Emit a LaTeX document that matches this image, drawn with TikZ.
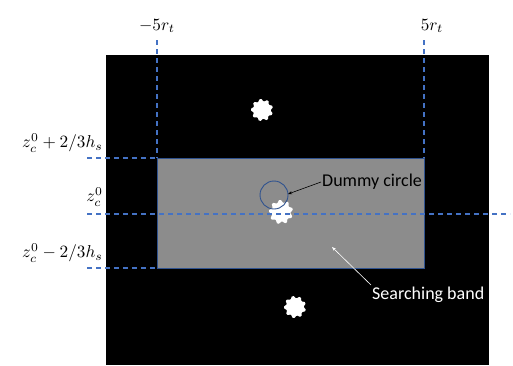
\documentclass[tikz,border=0pt]{standalone}
\usepackage{graphicx}
\usepackage{fontspec}
\setmainfont{Carlito}
\usetikzlibrary{shapes.geometric,arrows.meta}
\definecolor{dashblue}{RGB}{68,114,196}
\definecolor{bandblue}{RGB}{47,82,143}
\definecolor{bandgray}{RGB}{140,140,140}
\newcommand{\lblmath}[1]{\scalebox{1.72}{$#1$}}
\tikzset{
  guide/.style={dashblue, line width=1.2pt, dash pattern=on 5pt off 4pt},
  blob/.style={star, star points=9, star point ratio=1.45, fill=white, draw=white, line width=1.5pt, rounded corners=1pt, inner sep=0pt},
  mlabel/.style={inner sep=1pt},
  tlabel/.style={font=\fontsize{18}{21}\selectfont, inner sep=1pt},
}
\begin{document}
\begin{tikzpicture}[x=1pt,y=-1pt]
\useasboundingbox (0,0) rectangle (513,365);
% image
\fill[black] (106,55) rectangle (489,365);
% blobs
\node[blob, minimum size=22pt, rotate=8] (b1) at (262,110) {};
\node[blob, minimum size=22pt, rotate=12] (b3) at (295,307) {};
% band
\draw[bandblue, line width=0.9pt, fill=bandgray] (157,158) rectangle (424,268);
\node[blob, minimum size=24pt, rotate=5] (b2) at (281,212) {};
% guides
\coordinate (vL) at (157,40);
\coordinate (vR) at (424,40);
\draw[guide] (vL) -- (157,158);
\draw[guide] (vR) -- (424,158);
\draw[guide] (87,158) -- (157,158);
\draw[guide] (87,268) -- (157,268);
\draw[guide] (87,214) -- (510,214);
% circle
\draw[bandblue, line width=0.9pt] (274,195) circle (14);
\coordinate (cEdge) at (288,194);
% labels
\node[mlabel] (lL) at (157,26) {\lblmath{-5r_t}};
\node[mlabel] (lR) at (432,26) {\lblmath{5r_t}};
\node[mlabel, anchor=east] (l1) at (104,143) {\lblmath{z_c^0+2/3h_s}};
\node[mlabel, anchor=east] (l2) at (104,197) {\lblmath{z_c^0}};
\node[mlabel, anchor=east] (l3) at (104,253) {\lblmath{z_c^0-2/3h_s}};
\node[tlabel, anchor=west] (dc) at (321,182) {Dummy circle};
\node[tlabel, anchor=west, text=white] (sb) at (371,295) {Searching band};
\coordinate (sbT) at (332,247);
\draw[-{Stealth[length=4pt,width=3pt]}, black, line width=0.6pt] (dc.west) -- (cEdge);
\draw[-{Stealth[length=4pt,width=3pt]}, white, line width=0.6pt] (sb.north west) ++(0,-1) -- (sbT);
\end{tikzpicture}
\end{document}
